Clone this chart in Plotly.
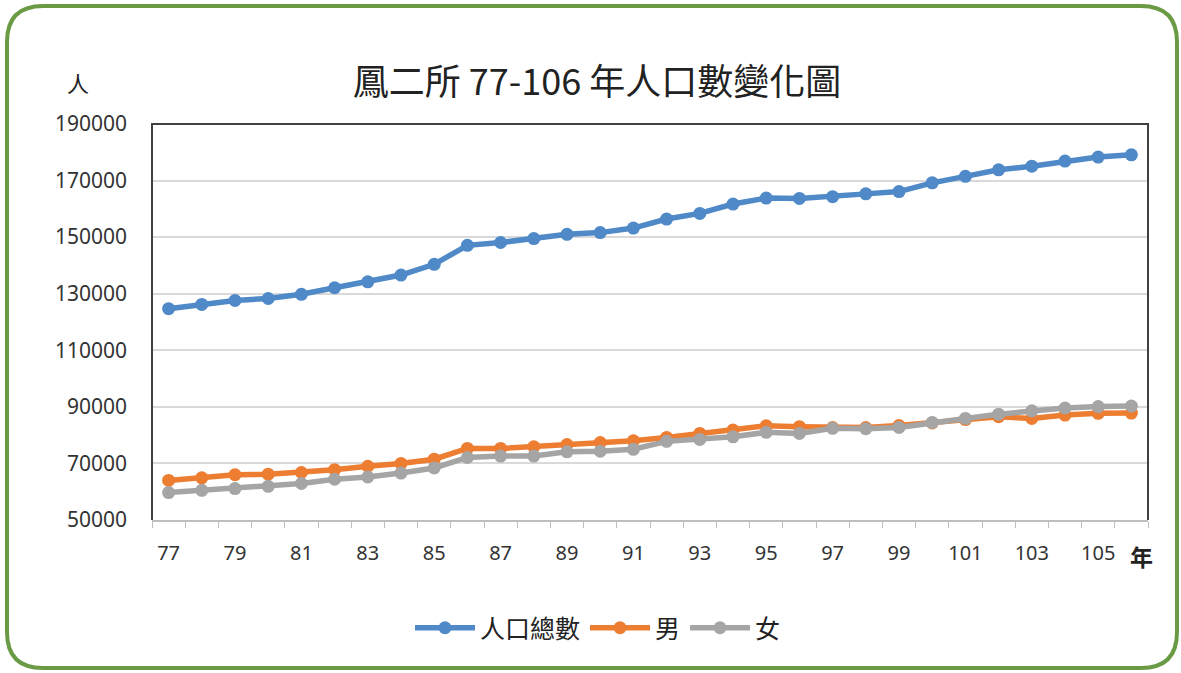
import plotly.graph_objects as go

years = [77, 78, 79, 80, 81, 82, 83, 84, 85, 86, 87, 88, 89, 90, 91,
         92, 93, 94, 95, 96, 97, 98, 99, 100, 101, 102, 103, 104, 105, 106]
total = [124700, 126200, 127600, 128300, 129800, 132100, 134200, 136600, 140400, 147100,
         148100, 149500, 151000, 151600, 153200, 156400, 158400, 161700, 163800, 163700,
         164300, 165300, 166100, 169200, 171500, 173800, 175100, 176900, 178300, 179100]
male = [64000, 64900, 66000, 66200, 66800, 67800, 69000, 70000, 71500, 75300,
        75300, 75900, 76700, 77400, 78000, 79200, 80600, 81800, 83300, 83000,
        82700, 82700, 83400, 84300, 85500, 86500, 85900, 87100, 87700, 87800]
female = [59700, 60500, 61100, 61900, 62900, 64400, 65200, 66600, 68400, 72100,
          72600, 72600, 74100, 74300, 75000, 77800, 78500, 79400, 81000, 80600,
          82400, 82300, 82700, 84500, 85900, 87400, 88600, 89600, 90100, 90300]
series_names = ["人口總數", "男", "女"]
x_ticks = [77, 79, 81, 83, 85, 87, 89, 91, 93, 95, 97, 99, 101, 103, 105]
y_ticks = [50000, 70000, 90000, 110000, 130000, 150000, 170000, 190000]

W, H = 1181, 673
ML, MR, MT, MB = 152, 33, 124, 153
PW, PH = W - ML - MR, H - MT - MB


def px(x):
    return (x - ML) / PW


def py(y):
    return (H - MB - y) / PH


colors = ["#4f89c7", "#ed7d31", "#a5a5a5"]
fig = go.Figure()
for name, vals, c in zip(series_names, [total, male, female], colors):
    fig.add_trace(go.Scatter(
        x=years, y=vals, name=name, mode="lines+markers",
        line=dict(color=c, width=5.5),
        marker=dict(color=c, size=13),
    ))

# rounded green outer border
x0, x1, y0, y1, r = 7, 1177, 6, 668, 36
path = (f"M {px(x0 + r)},{py(y0)} L {px(x1 - r)},{py(y0)} "
        f"Q {px(x1)},{py(y0)} {px(x1)},{py(y0 + r)} "
        f"L {px(x1)},{py(y1 - r)} Q {px(x1)},{py(y1)} {px(x1 - r)},{py(y1)} "
        f"L {px(x0 + r)},{py(y1)} Q {px(x0)},{py(y1)} {px(x0)},{py(y1 - r)} "
        f"L {px(x0)},{py(y0 + r)} Q {px(x0)},{py(y0)} {px(x0 + r)},{py(y0)} Z")
shapes = [
    dict(type="path", xref="paper", yref="paper", path=path,
         line=dict(color="#6b9a45", width=4), layer="below"),
    dict(type="path", xref="paper", yref="paper", path="M 0,0 L 0,1 L 1,1 L 1,0",
         line=dict(color="#404040", width=2)),
]

fig.update_layout(
    width=W, height=H,
    margin=dict(l=ML, r=MR, t=MT, b=MB),
    paper_bgcolor="white", plot_bgcolor="white",
    title=dict(text="鳳二所 77-106 年人口數變化圖", xref="container", x=597 / W, xanchor="center",
               y=1 - 82 / H, yanchor="middle",
               font=dict(family="Noto Sans CJK TC", size=36, color="#222222")),
    shapes=shapes,
    showlegend=True,
    legend=dict(orientation="h", x=px(598), xanchor="center", y=py(628), yanchor="middle",
                font=dict(family="Noto Sans CJK TC", size=25, color="#222222"),
                itemwidth=60, traceorder="normal"),
    annotations=[
        dict(text="人", xref="paper", yref="paper", x=px(78), y=py(82), showarrow=False,
             xanchor="center", yanchor="middle",
             font=dict(family="Noto Sans CJK TC", size=22, color="#222222")),
        dict(text="<b>年</b>", xref="paper", yref="paper", x=px(1141), y=py(556), showarrow=False,
             xanchor="center", yanchor="middle",
             font=dict(family="Noto Sans CJK TC", size=23, color="#222222")),
    ],
)
fig.update_xaxes(
    range=[76.5, 106.5], tickvals=x_ticks, ticktext=[str(v) for v in x_ticks],
    showgrid=False, zeroline=False, showline=True, linecolor="#bfbfbf", linewidth=1.5,
    ticks="", ticklabelstandoff=14,
    minor=dict(tickvals=[v - 0.5 for v in years] + [106.5], ticks="outside",
               ticklen=6, tickcolor="#bfbfbf", showgrid=False),
    tickfont=dict(family="Noto Sans", size=20, color="#333333"),
)
fig.update_yaxes(
    range=[50000, 190000], tickvals=y_ticks, ticktext=[str(v) for v in y_ticks],
    showgrid=True, gridcolor="#d9d9d9", gridwidth=1.5, zeroline=False,
    showline=False, ticks="", ticklabelstandoff=24,
    tickfont=dict(family="Noto Sans", size=21, color="#333333"),
)
fig.write_html(
    "out.html",
    config={"displayModeBar": False},
    post_script="document.body.style.margin='0px';document.documentElement.style.overflow='hidden';",
)
